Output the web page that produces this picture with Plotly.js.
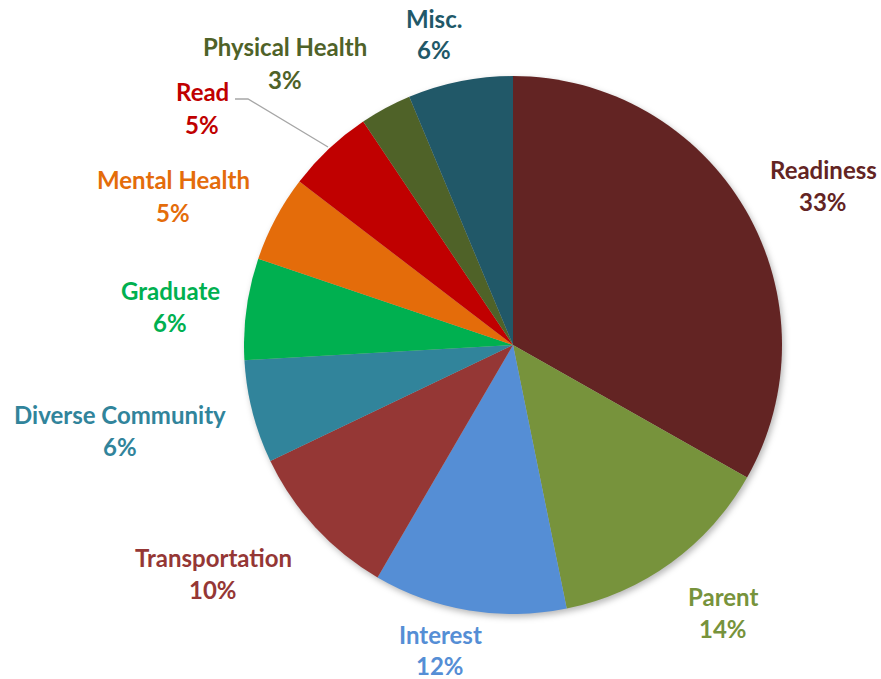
<!DOCTYPE html>
<html>
<head>
<meta charset="utf-8">
<script src="https://cdn.plot.ly/plotly-3.0.1.min.js"></script>
<style>
html,body{margin:0;padding:0;background:#fff;}
#chart{width:881px;height:679px;}
.pielayer{filter:drop-shadow(2px 3px 3px rgba(0,0,0,0.28));}
</style>
</head>
<body>
<div id="chart"></div>
<script>
// Data
var categories = ["Readiness","Parent","Interest","Transportation","Diverse Community","Graduate","Mental Health","Read","Physical Health","Misc."];
var values = [33.2, 13.6, 11.6, 9.5, 6.2, 6.1, 5.2, 5.2, 3.1, 6.3];

// Styles
var colors = ["#632423","#77933C","#558ED5","#953735","#31849B","#00B050","#E46C0A","#C00000","#4F6228","#215868"];
// label positions in pixels (name line centre)
var labelPos = [[823,169],[723,596],[440,634],[213,557],[120,414],[170,290],[173,180],[202,92],[285,47],[434,18]];
var lineGap = [32,32,31,32,32,32,32,32,32,32];
var W = 881, H = 679;
var cx = 513, cy = 345, R = 269;

function px(x){return x/W;}
function py(y){return 1 - y/H;}

var total = values.reduce(function(a,b){return a+b;},0);
var annotations = [];
for (var i=0;i<categories.length;i++){
  var pct = Math.round(values[i]/total*100) + "%";
  var p = labelPos[i];
  var f = {family:"Lato, 'Open Sans', sans-serif", size:24, color:colors[i], weight:700};
  annotations.push({xref:'paper',yref:'paper',x:px(p[0]),y:py(p[1]),xanchor:'center',yanchor:'middle',
    text:'<b>'+categories[i]+'</b>',showarrow:false,font:f});
  annotations.push({xref:'paper',yref:'paper',x:px(p[0]),y:py(p[1]+lineGap[i]),xanchor:'center',yanchor:'middle',
    text:'<b>'+pct+'</b>',showarrow:false,font:f});
}

var trace = {
  type:'pie',
  labels:categories,
  values:values,
  sort:false,
  direction:'clockwise',
  rotation:0,
  textinfo:'none',
  hoverinfo:'label+percent',
  marker:{colors:colors,line:{width:0}},
  domain:{x:[px(cx-R),px(cx+R)], y:[py(cy+R),py(cy-R)]},
  showlegend:false
};

var layout = {
  width:W,height:H,
  margin:{l:0,r:0,t:0,b:0},
  paper_bgcolor:'#ffffff',
  plot_bgcolor:'#ffffff',
  showlegend:false,
  annotations:annotations,
  shapes:[{type:'path',xref:'paper',yref:'paper',
    path:'M '+px(235)+','+py(99)+' L '+px(248)+','+py(99)+' L '+px(328)+','+py(147),
    line:{color:'#A6A6A6',width:1.3}}]
};

Plotly.newPlot('chart',[trace],layout,{displayModeBar:false,staticPlot:true});
</script>
</body>
</html>
